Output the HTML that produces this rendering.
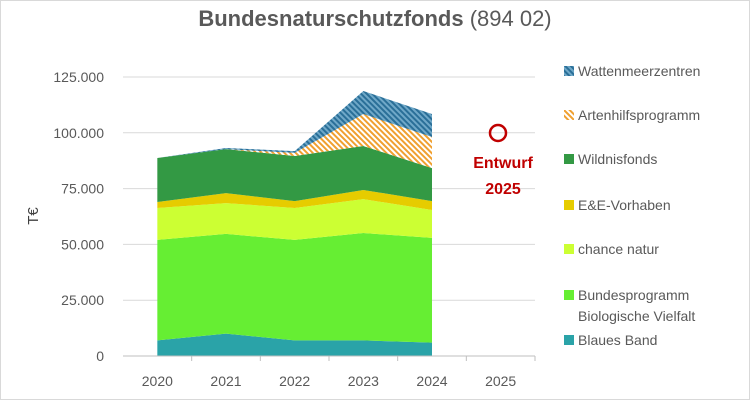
<!DOCTYPE html>
<html><head><meta charset="utf-8"><style>
body{margin:0;background:#fff;font-family:"Liberation Sans",sans-serif}
svg text{font-family:"Liberation Sans",sans-serif}
</style></head><body>
<svg width="750" height="400" xmlns="http://www.w3.org/2000/svg">
<defs>
<pattern id="hatchO" width="4" height="4" patternUnits="userSpaceOnUse" patternTransform="rotate(-45)"><rect width="4" height="4" fill="#fff"/><rect width="2" height="4" fill="#f0a030"/></pattern>
<pattern id="hatchB" width="4" height="4" patternUnits="userSpaceOnUse" patternTransform="rotate(-45)"><rect width="4" height="4" fill="#6fa8c8"/><rect width="2" height="4" fill="#2a6f98"/></pattern>
</defs>
<rect x="0.5" y="0.5" width="749" height="399" fill="#fff" stroke="#d9d9d9"/>
<text x="375" y="26" text-anchor="middle" font-size="22" fill="#595959"><tspan font-weight="bold">Bundesnaturschutzfonds</tspan> (894 02)</text>
<text x="38" y="216" font-size="15" fill="#404040" text-anchor="middle" transform="rotate(-90 38 216)">T€</text>
<g id="grid"></g><g id="areas"></g><g id="axes"></g><g id="legend"></g>
<circle cx="498" cy="133" r="8" fill="none" stroke="#c00000" stroke-width="2.5"/>
<text x="503" y="168" font-size="16" font-weight="bold" fill="#c00000" text-anchor="middle">Entwurf</text>
<text x="503" y="194" font-size="16" font-weight="bold" fill="#c00000" text-anchor="middle">2025</text>
</svg>
<script>
const years=["2020","2021","2022","2023","2024","2025"];
const yTicks=[0,25000,50000,75000,100000,125000];
const yTickLabels=["0","25.000","50.000","75.000","100.000","125.000"];
const seriesNames=["Blaues Band","Bundesprogramm Biologische Vielfalt","chance natur","E&E-Vorhaben","Wildnisfonds","Artenhilfsprogramm","Wattenmeerzentren"];
const blauesBand=[7000,10000,7000,7000,6000];
const bundesprogramm=[45000,44700,45000,48100,46900];
const chanceNatur=[14300,13800,14300,15200,12500];
const eeVorhaben=[2700,4500,3100,4100,4000];
const wildnisfonds=[19700,19700,20200,19700,14800];
const artenhilfs=[0,0,1400,14300,13900];
const wattenmeer=[0,500,800,10300,10300];
const series=[blauesBand,bundesprogramm,chanceNatur,eeVorhaben,wildnisfonds,artenhilfs,wattenmeer];
const fills=["#2aa3a8","#66ee33","#ccff33","#e6cc00","#339944","url(#hatchO)","url(#hatchB)"];
const NS="http://www.w3.org/2000/svg";
const x0=123,x1=535,yB=356,yT=77,yMax=125000;
const step=(x1-x0)/years.length;
const xs=i=>x0+step*(i+0.5);
const ys=v=>yB-(v/yMax)*(yB-yT);
function mk(t,a,p){const e=document.createElementNS(NS,t);for(const k in a)e.setAttribute(k,a[k]);p.appendChild(e);return e;}
const grid=document.getElementById('grid'),axes=document.getElementById('axes'),areas=document.getElementById('areas'),leg=document.getElementById('legend');
yTicks.forEach((v,i)=>{
 if(i>0){const l=mk('line',{x1:x0,x2:x1,y1:ys(v),y2:ys(v),stroke:'#d9d9d9'},grid);
 
 }
 const t=mk('text',{x:104,y:ys(v)+5,'text-anchor':'end','font-size':14,fill:'#595959'},axes);t.textContent=yTickLabels[i];
 
 
});
years.forEach((y,i)=>{const t=mk('text',{x:xs(i),y:386,'text-anchor':'middle','font-size':14,fill:'#595959'},axes);t.textContent=y;
 
 
 const tk=mk('line',{x1:x0+step*(i+1),x2:x0+step*(i+1),y1:yB,y2:yB+5,stroke:'#bfbfbf'},axes);
 
 });
const base=mk('line',{x1:x0,x2:x1,y1:yB,y2:yB,stroke:'#bfbfbf'},axes);


let cum=blauesBand.map(()=>0);
series.forEach((s,k)=>{
 const top=cum.map((c,i)=>c+s[i]);
 let d='';top.forEach((v,i)=>d+=(i?'L':'M')+xs(i)+','+ys(v));
 for(let i=cum.length-1;i>=0;i--)d+='L'+xs(i)+','+ys(cum[i]);
 const p=mk('path',{d:d+'Z',fill:fills[k]},areas);
 
 
 cum=top;
});
const legY=[346,301,255,211,165,121,77];
seriesNames.forEach((n,k)=>{
 const g=mk('g',{},leg);
 
 
 mk('rect',{x:564,y:legY[k]-11,width:10,height:10,fill:fills[k]},g);
 if(k===1){const t=mk('text',{x:578,y:legY[k]-1,'font-size':14,fill:'#595959'},g);t.textContent='Bundesprogramm';
  const t2=mk('text',{x:578,y:legY[k]+20,'font-size':14,fill:'#595959'},g);t2.textContent='Biologische Vielfalt';}
 else{const t=mk('text',{x:578,y:legY[k]-1,'font-size':14,fill:'#595959'},g);t.textContent=n;}
});
</script>
</body></html>
